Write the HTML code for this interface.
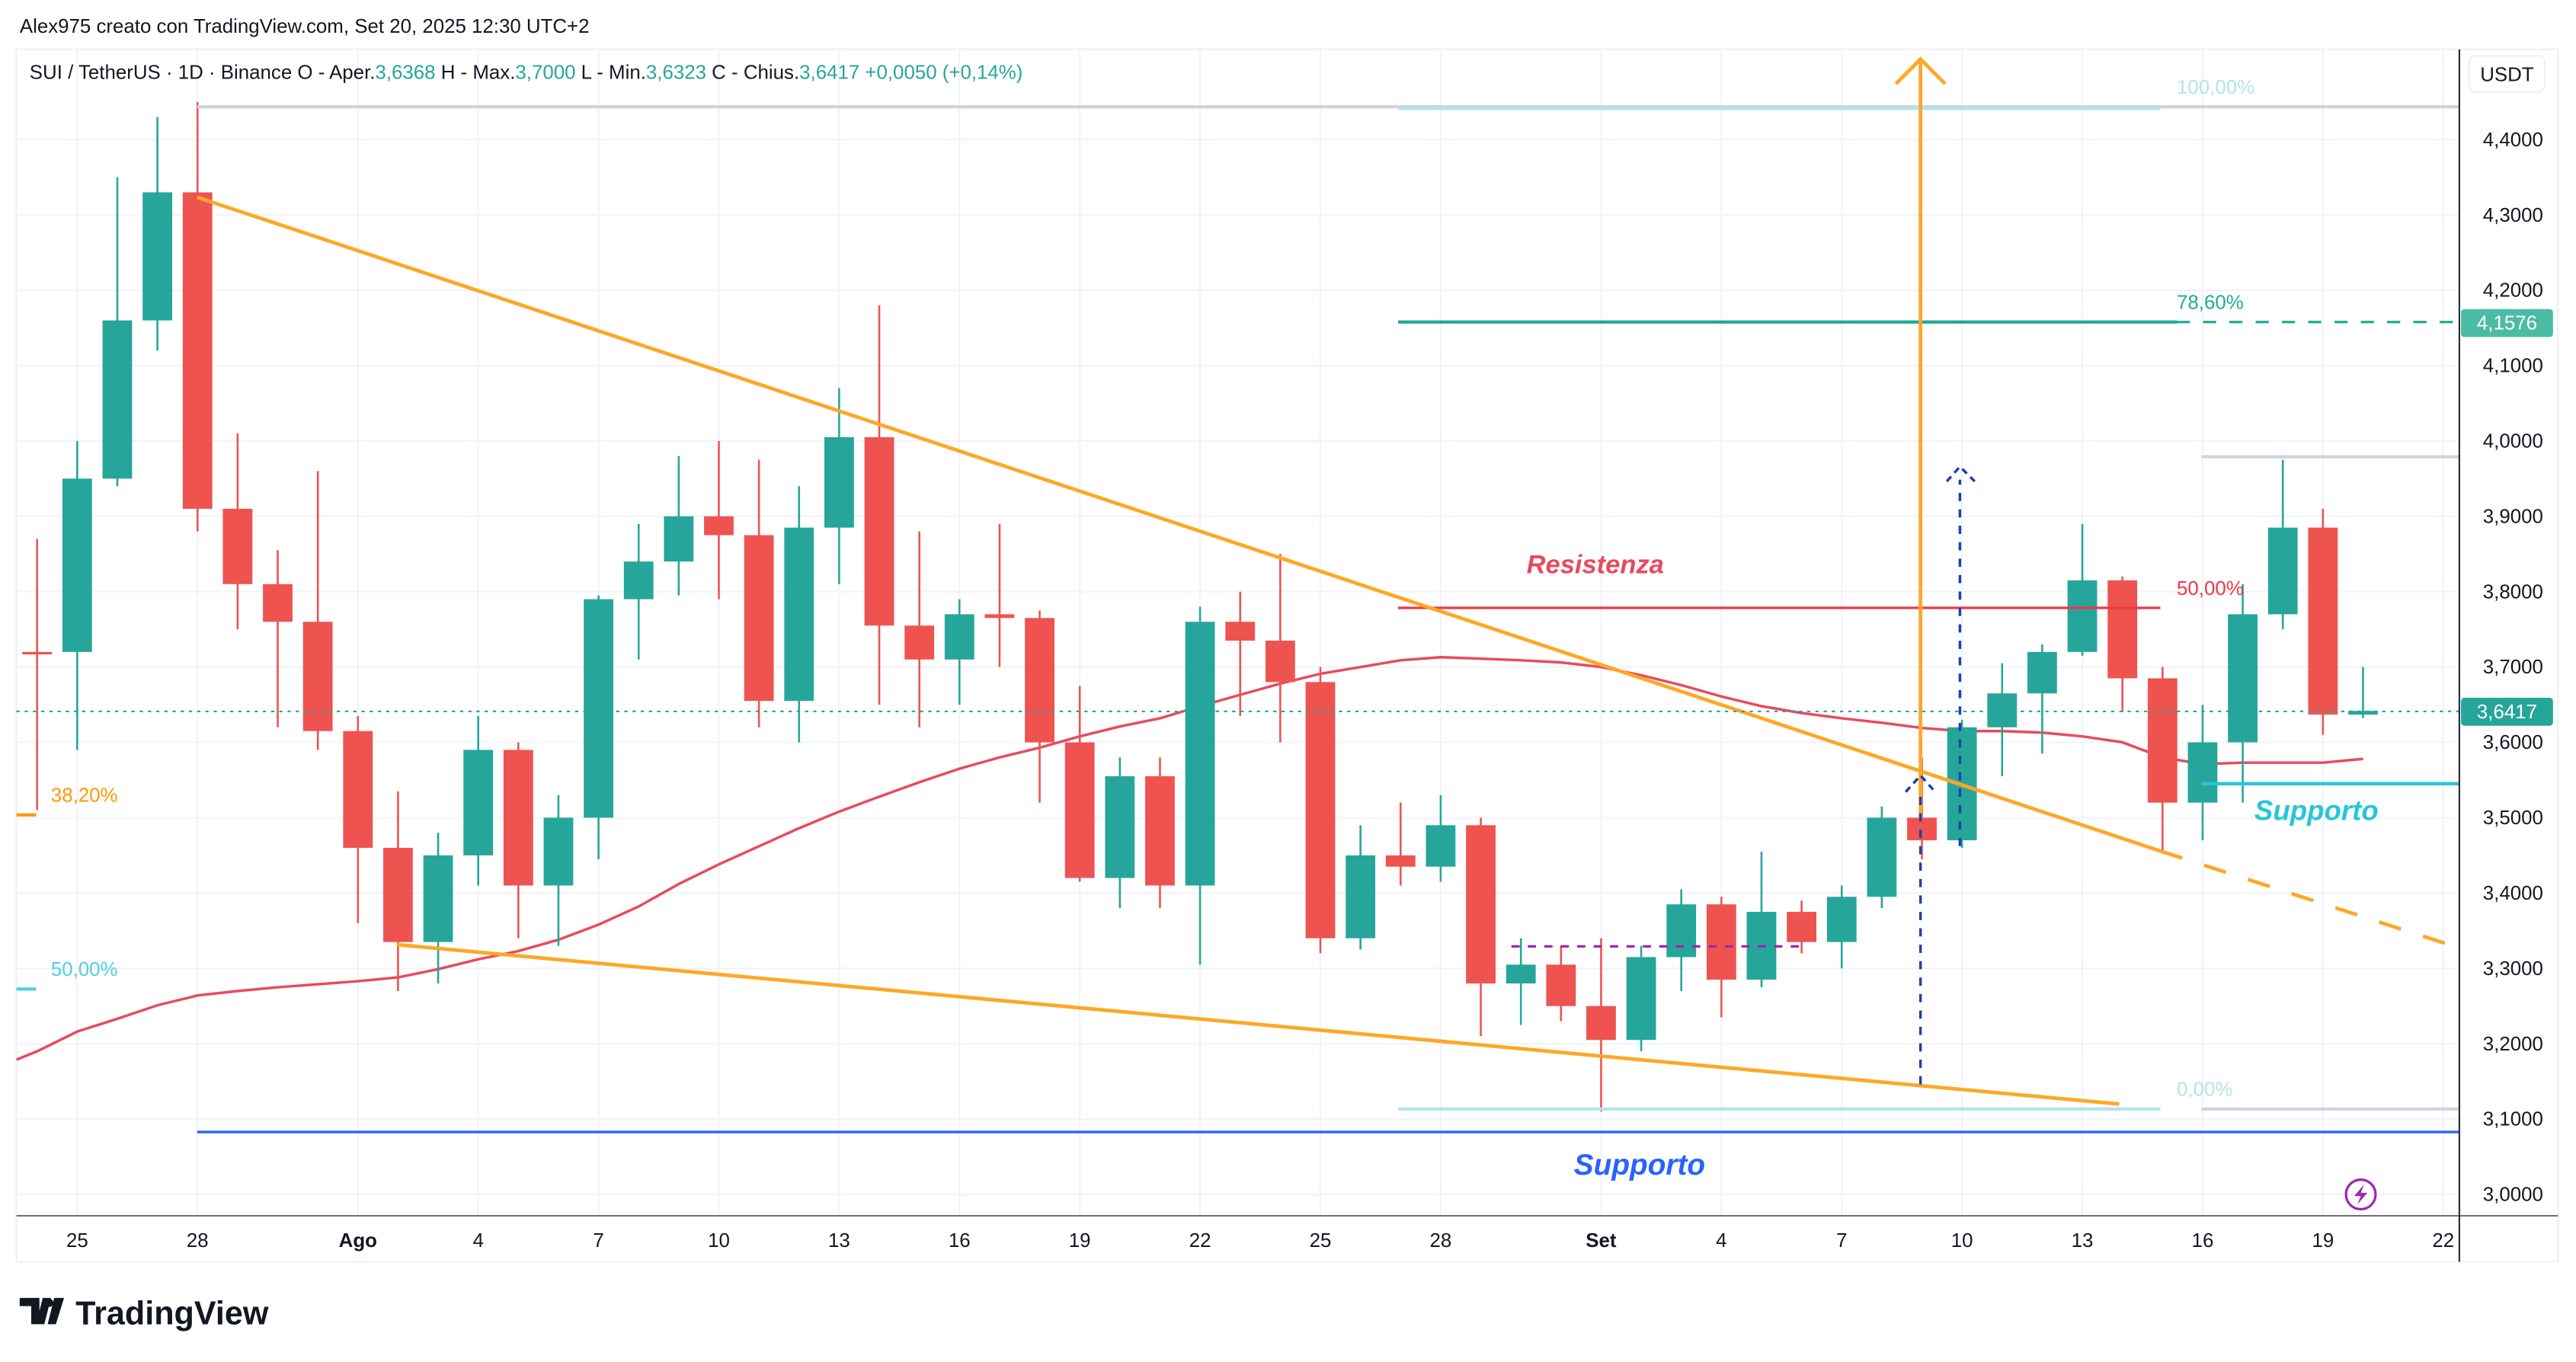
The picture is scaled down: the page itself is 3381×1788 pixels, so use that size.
<!DOCTYPE html>
<html><head><meta charset="utf-8"><style>
html,body{margin:0;padding:0;background:#fff;}
svg{display:block;font-family:"Liberation Sans",sans-serif;}
</style></head><body>
<svg id="chart" width="3381" height="1788" viewBox="0 0 1568 829" preserveAspectRatio="none" xmlns="http://www.w3.org/2000/svg">
<rect x="0" y="0" width="1568" height="829" fill="#fff"/>
<text x="12" y="20" font-size="12" fill="#131722">Alex975 creato con TradingView.com, Set 20, 2025 12:30 UTC+2</text>
<rect x="10" y="30" width="1547" height="738" fill="none" stroke="#eef0f3"/>
<g id="grid"></g>
<g id="drawings-back"></g>
<g id="ma"></g>
<g id="candles"></g>
<g id="drawings"></g>
<line x1="1497" y1="30" x2="1497" y2="768" stroke="#2a2e39" stroke-width="1"/>
<line x1="10" y1="740" x2="1557" y2="740" stroke="#2a2e39" stroke-width="0.6"/>
<g id="yaxis"></g>
<g id="xaxis"></g>
<text x="18" y="48" font-size="12" fill="#131722">SUI / TetherUS · 1D · Binance  O - Aper.<tspan fill="#26a69a">3,6368</tspan>  H - Max.<tspan fill="#26a69a">3,7000</tspan>  L - Min.<tspan fill="#26a69a">3,6323</tspan>  C - Chius.<tspan fill="#26a69a">3,6417</tspan>  <tspan fill="#26a69a">+0,0050 (+0,14%)</tspan></text>
<rect x="1503" y="34" width="46" height="22" rx="4" fill="#fff" stroke="#eef0f3"/>
<text x="1526" y="49.5" font-size="12" fill="#131722" text-anchor="middle">USDT</text>
<g>
<path d="M12 790h12v16h-5v-11h-7z M26 790h5l-4 16h-5z" fill="#131722"/>
<circle cx="30" cy="793" r="2.5" fill="#131722"/>
<path d="M33 790h6l-5 16h-5z" fill="#131722"/>
<text x="46" y="806" font-size="20" font-weight="bold" fill="#131722">TradingView</text>
</g>
<script>
var ns="http://www.w3.org/2000/svg";
var opens=[3.72,3.72,3.95,4.16,4.33,3.91,3.81,3.76,3.615,3.46,3.335,3.45,3.59,3.41,3.50,3.79,3.84,3.90,3.875,3.655,3.885,4.005,3.755,3.71,3.77,3.765,3.60,3.42,3.555,3.41,3.76,3.735,3.68,3.34,3.45,3.435,3.49,3.28,3.305,3.25,3.205,3.315,3.385,3.285,3.375,3.335,3.395,3.50,3.47,3.62,3.665,3.72,3.815,3.685,3.52,3.60,3.77,3.885,3.6368];
var highs=[3.87,4.0,4.35,4.43,4.45,4.01,3.855,3.96,3.635,3.535,3.48,3.635,3.60,3.53,3.795,3.89,3.98,4.0,3.975,3.94,4.07,4.18,3.88,3.79,3.89,3.775,3.675,3.58,3.58,3.78,3.80,3.85,3.70,3.49,3.52,3.53,3.50,3.34,3.33,3.34,3.33,3.405,3.395,3.455,3.39,3.41,3.515,3.58,3.63,3.705,3.73,3.89,3.82,3.70,3.65,3.81,3.975,3.91,3.70];
var lows=[3.51,3.59,3.94,4.12,3.88,3.75,3.62,3.59,3.36,3.27,3.28,3.41,3.34,3.33,3.445,3.71,3.795,3.79,3.62,3.60,3.81,3.65,3.62,3.65,3.70,3.52,3.415,3.38,3.38,3.305,3.635,3.60,3.32,3.325,3.41,3.415,3.21,3.225,3.23,3.11,3.19,3.27,3.235,3.275,3.32,3.30,3.38,3.445,3.46,3.555,3.585,3.715,3.64,3.455,3.47,3.52,3.75,3.61,3.6323];
var closes=[3.717,3.95,4.16,4.33,3.91,3.81,3.76,3.615,3.46,3.335,3.45,3.59,3.41,3.50,3.79,3.84,3.90,3.875,3.655,3.885,4.005,3.755,3.71,3.77,3.765,3.60,3.42,3.555,3.41,3.76,3.735,3.68,3.34,3.45,3.435,3.49,3.28,3.305,3.25,3.205,3.315,3.385,3.285,3.375,3.335,3.395,3.50,3.47,3.62,3.665,3.72,3.815,3.685,3.52,3.60,3.77,3.885,3.6368,3.6417];
var maValues=[3.190,3.216,3.233,3.251,3.264,3.270,3.275,3.279,3.283,3.288,3.299,3.312,3.323,3.338,3.358,3.382,3.412,3.438,3.462,3.486,3.508,3.528,3.547,3.565,3.580,3.593,3.608,3.621,3.632,3.648,3.663,3.678,3.691,3.700,3.709,3.713,3.711,3.709,3.706,3.700,3.689,3.676,3.661,3.648,3.639,3.632,3.626,3.619,3.615,3.615,3.613,3.608,3.600,3.580,3.571,3.573,3.573,3.573,3.578];
var priceTicks=[3.0,3.1,3.2,3.3,3.4,3.5,3.6,3.7,3.8,3.9,4.0,4.1,4.2,4.3,4.4];
var timeTickDays=[1,4,8,11,14,17,20,23,26,29,32,35,39,42,45,48,51,54,57,60];
var timeTickLabels=["25","28","Ago","4","7","10","13","16","19","22","25","28","Set","4","7","10","13","16","19","22"];
var firstCandleDay=0; // Jul 24 = day 0
function y(p){return 727-(p-3)*458.6;}
function x(d){return 47+(d-1)*24.41;}
function mk(tag,attrs,parent){var e=document.createElementNS(ns,tag);for(var k in attrs)e.setAttribute(k,attrs[k]);parent.appendChild(e);return e;}
var grid=document.getElementById('grid');
priceTicks.forEach(function(p){var l=mk('line',{x1:10,x2:1497,y1:y(p),y2:y(p),stroke:'#f0f3fa','stroke-width':1},grid);

});
timeTickDays.forEach(function(d){var l=mk('line',{x1:x(d),x2:x(d),y1:30,y2:740,stroke:'#f0f3fa','stroke-width':1},grid);

});
var ya=document.getElementById('yaxis');
priceTicks.forEach(function(p){var t=mk('text',{x:1548,y:y(p)+4,'font-size':12,fill:'#131722','text-anchor':'end'},ya);t.textContent=p.toFixed(4).replace('.',',');

});
var xa=document.getElementById('xaxis');
timeTickDays.forEach(function(d,i){var lb=timeTickLabels[i];var t=mk('text',{x:x(d),y:759,'font-size':12,fill:'#131722','text-anchor':'middle','font-weight':(lb==='Ago'||lb==='Set')?'bold':'normal'},xa);t.textContent=lb;

});
var cg=document.getElementById('candles');
opens.forEach(function(o,i){var c=closes[i],cx=x(firstCandleDay+i),col=c>=o?'#26a69a':'#ef5350';
var g=mk('g',{},cg);


mk('line',{x1:cx,x2:cx,y1:y(highs[i]),y2:y(lows[i]),stroke:col,'stroke-width':1.2},g);
var top=y(Math.max(o,c)),h=Math.max(1.5,Math.abs(y(o)-y(c)));
mk('rect',{x:cx-9,y:top,width:18,height:h,fill:col},g);});
var pts=maValues.map(function(v,i){return x(firstCandleDay+i).toFixed(1)+','+y(v).toFixed(1);});
pts.unshift('10,645');
var ml=mk('polyline',{points:pts.join(' '),fill:'none',stroke:'#e84a5f','stroke-width':1.6},document.getElementById('ma'));


var dr=document.getElementById('drawings');
function ln(a,b,c,d,col,w,dash,name){var l=mk('line',{x1:a,y1:b,x2:c,y2:d,stroke:col,'stroke-width':w},dr);if(dash)l.setAttribute('stroke-dasharray',dash);

return l;}
function tx(s,a,b,col,size,extra,name){var t=mk('text',{x:a,y:b,fill:col,'font-size':size},dr);for(var k in extra)t.setAttribute(k,extra[k]);t.textContent=s;

return t;}
ln(120,65,1497,65,'#d1d4dc',2,null,'top-level-line');
ln(851,66,1315,66,'#b2e4ea',2,null,'fib-100-line');
tx('100,00%',1325,57,'#b2e4ea',12,{},'fib-100-label');
ln(851,196,1325,196,'#22ab94',2,null,'fib-786-line');
ln(1325,196,1497,196,'#22ab94',1.5,'8 8','fib-786-extension');
tx('78,60%',1325,188,'#22ab94',12,{},'fib-786-label');
ln(851,370,1315,370,'#f23645',1.5,null,'resistance-line');
tx('50,00%',1325,362,'#f23645',12,{},'fib-50-label');
ln(851,675,1315,675,'#b2e4ea',2,null,'fib-0-line');
tx('0,00%',1325,667,'#b2e4ea',12,{},'fib-0-label');
tx('Resistenza',971,349,'#e84a5f',16,{'font-style':'italic','font-weight':'bold','text-anchor':'middle'},'resistance-label');
ln(10,496,22,496,'#ff9800',2,null,'fib-382-left-tick');
tx('38,20%',31,488,'#ff9800',12,{},'fib-382-left-label');
ln(10,602,22,602,'#4dd0e1',2,null,'fib-50-left-tick');
tx('50,00%',31,594,'#4dd0e1',12,{},'fib-50-left-label');
ln(120,120,1315,518,'#ffa726',2.2,null,'wedge-upper-line');
ln(1315,518,1497,577,'#ffa726',2.2,'14 14','wedge-upper-extension');
ln(242,575,1290,672,'#ffa726',2.2,null,'wedge-lower-line');
ln(1169,498,1169,37,'#ffa726',2.2,null,'target-arrow-shaft');
var ah=mk('polyline',{points:'1154,51 1169,36 1184,51',fill:'none',stroke:'#ffa726','stroke-width':2.2},dr);


ln(1169,660,1169,485,'#1e3fae',1.6,'5 5','projection-dashed-1');
var c1=mk('polyline',{points:'1160,482 1169,472 1178,482',fill:'none',stroke:'#1e3fae','stroke-width':1.6,'stroke-dasharray':'4 3'},dr);


ln(1193,515,1193,292,'#1e3fae',1.6,'5 5','projection-dashed-2');
var c2=mk('polyline',{points:'1185,293 1193,284 1202,293',fill:'none',stroke:'#1e3fae','stroke-width':1.6,'stroke-dasharray':'4 3'},dr);


ln(920,576,1095,576,'#9c27b0',1.5,'5 5','range-dashed-line');
ln(120,689,1497,689,'#2962ff',1.6,null,'support-line');
tx('Supporto',998,715,'#2962ff',18,{'font-style':'italic','font-weight':'bold','text-anchor':'middle'},'support-label');
ln(1340,477,1497,477,'#26c6da',2,null,'support-cyan-line');
tx('Supporto',1410,499,'#26c6da',17,{'font-style':'italic','font-weight':'bold','text-anchor':'middle'},'support-cyan-label');
ln(1340,278,1497,278,'#d1d4dc',2,null,'high-gray-line');
ln(1340,675,1497,675,'#d1d4dc',2,null,'low-gray-line');
ln(10,433,1497,433,'#26a69a',1,'2 3','last-price-line');
function pill(p,col,name){var r=mk('rect',{x:1498,y:y(p)-8,width:56,height:17,rx:2,fill:col},dr);


var t=mk('text',{x:1526,y:y(p)+4.5,'font-size':12,fill:'#fff','text-anchor':'middle'},dr);t.textContent=p.toFixed(4).replace('.',',');

}
pill(4.1576,'#4cbba4','fib-786-price-tag');
pill(3.6417,'#26a69a','last-price-tag');
var lc=mk('circle',{cx:1437,cy:727,r:9,fill:'none',stroke:'#9c27b0','stroke-width':1.5},dr);


var bolt=mk('path',{d:'M1439 721 L1433 728 L1437 728 L1435 733 L1441 726 L1437 726 Z',fill:'#9c27b0'},dr);


</script>
</svg>
</body></html>
